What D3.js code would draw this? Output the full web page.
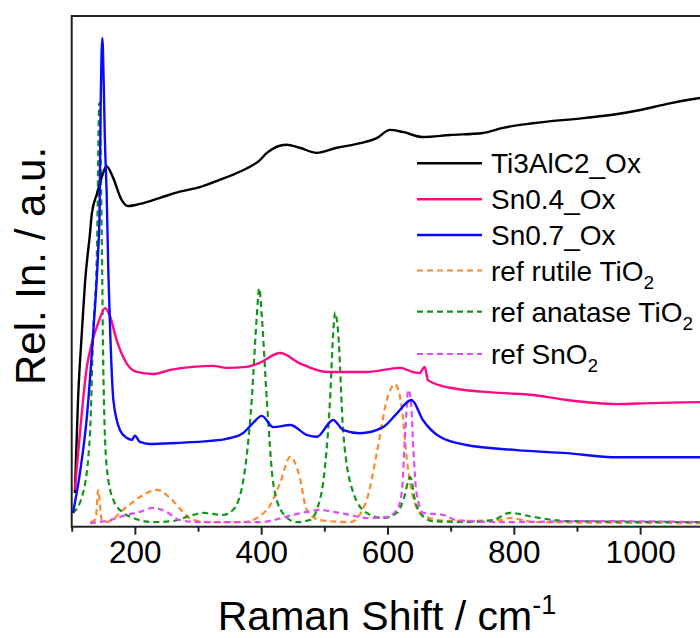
<!DOCTYPE html>
<html>
<head>
<meta charset="utf-8">
<script src="https://cdn.jsdelivr.net/npm/d3@7"></script>
<style>
  body { margin: 0; background: #fff; }
  text { font-family: "Liberation Sans", Arial, sans-serif; fill: #000; }
</style>
</head>
<body>
<div id="chart"></div>
<script>
// raman spectra, values (intensity in arbitrary units)
const TI3ALC2_X = [105, 110, 116, 121, 129, 132, 140, 147.5, 155, 165, 179, 189, 208, 240, 271, 303, 334, 366, 398, 409, 440, 461, 488, 520, 557, 583, 604, 624, 656, 699, 751, 783, 830, 910, 964, 1000, 1040, 1092, 1100];
const TI3ALC2_Y = [6.6, 24.8, 37.9, 47.7, 57.5, 61.4, 65.2, 68.4, 70.6, 68.5, 64.0, 62.8, 63.2, 64.4, 65.6, 66.5, 67.9, 69.5, 71.8, 73.2, 74.8, 74.2, 73.2, 74.2, 75.1, 76.1, 77.7, 77.3, 76.3, 76.7, 77.1, 78.1, 79.0, 80.0, 80.8, 81.6, 82.7, 83.9, 84.0];

const SN04_X = [105, 113, 124, 132, 142, 153, 161, 171, 187, 203, 229, 256, 292, 324, 345, 377, 398, 430, 461, 504, 567, 620, 640, 651, 659, 664, 699, 778, 831, 884, 964, 1016, 1095, 1100];
const SN04_Y = [7.2, 18.3, 31.3, 36.0, 39.9, 42.8, 41.1, 36.6, 32.0, 30.3, 29.9, 30.7, 31.3, 31.5, 31.1, 31.3, 32.1, 34.0, 32.0, 30.3, 30.3, 31.1, 30.3, 30.1, 31.3, 28.7, 27.2, 26.2, 25.8, 24.8, 24.0, 24.2, 24.4, 24.4];

const SN07_X = [102, 113, 124, 134, 142, 144, 146, 148.5, 150.5, 152.5, 155.4, 158, 161, 166, 176.5, 187, 195, 200, 208, 224, 266, 319, 345, 371, 387, 401, 419, 446, 472, 488, 514, 530, 556, 593, 615, 638, 656, 683, 725, 805, 884, 963, 1100];
const SN07_Y = [2.7, 10.5, 21.5, 37.9, 54.2, 60.6, 83.6, 95.7, 88, 76, 65, 50, 37.9, 24.8, 18.9, 17.4, 17.0, 17.8, 16.6, 16.2, 16.4, 16.8, 17.2, 18.3, 20.3, 21.7, 19.5, 19.9, 18.0, 17.6, 20.9, 18.9, 18.3, 19.5, 22.2, 24.8, 20.9, 17.6, 16.0, 15.0, 14.4, 13.6, 13.6];

const RUTILE_X = [130, 138, 142, 147.5, 155, 187, 213, 235, 256, 276, 292, 319, 371, 409, 430, 446, 461, 472, 493, 541, 567, 583, 599, 612, 622.5, 632, 648, 662, 699, 778, 794, 831, 1100];
const RUTILE_Y = [0.9, 1.5, 7.2, 1.3, 0.9, 3.9, 6.2, 7.2, 5.6, 2.9, 1.3, 0.9, 0.9, 3.3, 8.6, 13.7, 9.7, 3.3, 1.3, 0.9, 5.2, 14.4, 24.8, 27.9, 23.4, 11.7, 3.3, 1.9, 1.1, 1.3, 1.7, 0.9, 0.7];

const ANATASE_X = [102, 118, 129, 134, 140, 143.7, 147.5, 150, 155.4, 166, 182, 197.5, 229, 260, 282, 308, 339.5, 355.5, 371, 385, 393, 397, 401, 409, 419, 434, 456, 477, 488, 501, 509, 514, 517, 522, 530, 546, 567, 593, 615, 625, 636, 643.5, 657, 672.5, 725, 767, 794, 831, 884, 1100];
const ANATASE_Y = [2.7, 6.6, 18.3, 37.9, 54.2, 83.0, 57.5, 31.3, 11.7, 5.2, 2.7, 1.7, 0.9, 1.1, 1.9, 2.7, 2.3, 3.3, 8.6, 24.8, 41.1, 46.7, 41.1, 24.8, 8.6, 2.7, 0.9, 1.3, 3.3, 11.7, 24.8, 37.9, 41.9, 37.9, 18.3, 6.6, 2.7, 1.7, 2.7, 5.2, 9.7, 5.2, 1.9, 1.1, 0.9, 1.3, 2.7, 1.9, 1.1, 0.9];

const SNO2_X = [129, 161, 187, 208, 229, 250, 271, 303, 398, 450, 472, 493, 514, 541, 567, 599, 615, 622.5, 628, 633, 637, 641, 646, 657, 688, 709, 778, 937, 1100];
const SNO2_Y = [0.7, 1.3, 2.3, 2.9, 3.7, 2.9, 1.3, 0.9, 0.9, 2.3, 2.9, 3.3, 2.9, 2.3, 1.7, 1.9, 3.3, 6.6, 18.3, 26.8, 24.8, 15.0, 6.6, 2.7, 2.3, 1.3, 0.9, 1.1, 0.9];

const SERIES_NAMES = ["Ti3AlC2_Ox", "Sn0.4_Ox", "Sn0.7_Ox", "ref rutile TiO", "ref anatase TiO", "ref SnO"];
const SERIES_SUBS = ["", "", "", "2", "2", "2"];
const SERIES_COLORS = ["#000000", "#ff0a84", "#0a0aff", "#ff8a2a", "#12961a", "#e04cf8"];
const SERIES_DASHED = [false, false, false, true, true, true];
const SERIES_X = [TI3ALC2_X, SN04_X, SN07_X, RUTILE_X, ANATASE_X, SNO2_X];
const SERIES_Y = [TI3ALC2_Y, SN04_Y, SN07_Y, RUTILE_Y, ANATASE_Y, SNO2_Y];

const X_TICKS = [100, 200, 300, 400, 500, 600, 700, 800, 900, 1000, 1100];
const X_LABELS = [200, 400, 600, 800, 1000];

const WIDTH = 700, HEIGHT = 638;
const MARGIN = {left: 71.7, top: 16, bottom: 526.7, right: 703.3};

const svg = d3.select("#chart").append("svg")
  .attr("width", WIDTH)
  .attr("height", HEIGHT);

const x = d3.scaleLinear().domain([100, 1100]).range([MARGIN.left, MARGIN.right]);
const y = d3.scaleLinear().domain([0, 100]).range([MARGIN.bottom, MARGIN.top]);

// clip for the curves
svg.append("clipPath").attr("id", "plot-clip")
  .append("rect")
  .attr("x", MARGIN.left)
  .attr("y", MARGIN.top)
  .attr("width", MARGIN.right - MARGIN.left)
  .attr("height", MARGIN.bottom - MARGIN.top);

const line = d3.line()
  .x(d => x(d[0]))
  .y(d => y(d[1]))
  .curve(d3.curveMonotoneX);

const curves = svg.append("g").attr("clip-path", "url(#plot-clip)");

// draw the references first so the measured spectra stay on top
[3, 4, 5, 0, 1, 2].forEach(i => {
  const pts = SERIES_X[i].map((v, k) => [v, SERIES_Y[i][k]]);
  curves.append("path")
    .datum(pts)
    .attr("fill", "none")
    .attr("stroke", SERIES_COLORS[i])
    .attr("stroke-width", SERIES_DASHED[i] ? 2.2 : 2.4)
    .attr("stroke-dasharray", SERIES_DASHED[i] ? "6,4" : null)
    .attr("stroke-linejoin", "round")
    .attr("d", line);
});

// frame
svg.append("rect")
  .attr("x", MARGIN.left)
  .attr("y", MARGIN.top)
  .attr("width", MARGIN.right - MARGIN.left)
  .attr("height", MARGIN.bottom - MARGIN.top)
  .attr("fill", "none")
  .attr("stroke", "#222")
  .attr("stroke-width", 2);

// x axis
const xAxis = d3.axisBottom(x)
  .tickValues(X_TICKS)
  .tickSize(0)
  .tickFormat(d => X_LABELS.includes(d) ? d : "");

const axisG = svg.append("g")
  .attr("transform", `translate(0,${MARGIN.bottom})`)
  .call(xAxis);
axisG.select(".domain").remove();
axisG.selectAll(".tick line")
  .attr("stroke", "#222")
  .attr("stroke-width", 2)
  .attr("y2", d => X_LABELS.includes(d) ? 8 : 5);
axisG.selectAll(".tick text")
  .attr("y", 14)
  .attr("dy", "0.71em")
  .style("font-size", "31.5px")
  .style("font-family", "'Liberation Sans', Arial, sans-serif")
  .attr("fill", "#000");

// axis titles
const xTitle = svg.append("text")
  .attr("x", 387)
  .attr("y", 630)
  .attr("text-anchor", "middle")
  .style("font-size", "41px");
xTitle.append("tspan").text("Raman Shift / cm");
xTitle.append("tspan").attr("dy", -16).style("font-size", "27px").text("-1");

svg.append("text")
  .attr("transform", "translate(45,266) rotate(-90)")
  .attr("text-anchor", "middle")
  .style("font-size", "42px")
  .text("Rel. In. / a.u.");

// legend
const LEGEND_ROWS = [163.3, 199.3, 235, 270.5, 311.7, 354];
const legend = svg.append("g");
SERIES_NAMES.forEach((name, i) => {
  const ly = LEGEND_ROWS[i];
  legend.append("line")
    .attr("x1", 417).attr("x2", 482)
    .attr("y1", ly).attr("y2", ly)
    .attr("stroke", SERIES_COLORS[i])
    .attr("stroke-width", SERIES_DASHED[i] ? 2.2 : 2.4)
    .attr("stroke-dasharray", SERIES_DASHED[i] ? "6,4" : null);
  const t = legend.append("text")
    .attr("x", 491)
    .attr("y", ly + 10)
    .style("font-size", "28px");
  t.append("tspan").text(name);
  if (SERIES_SUBS[i]) {
    t.append("tspan").attr("dy", 8).style("font-size", "19px").text(SERIES_SUBS[i]);
  }
});
</script>
</body>
</html>
